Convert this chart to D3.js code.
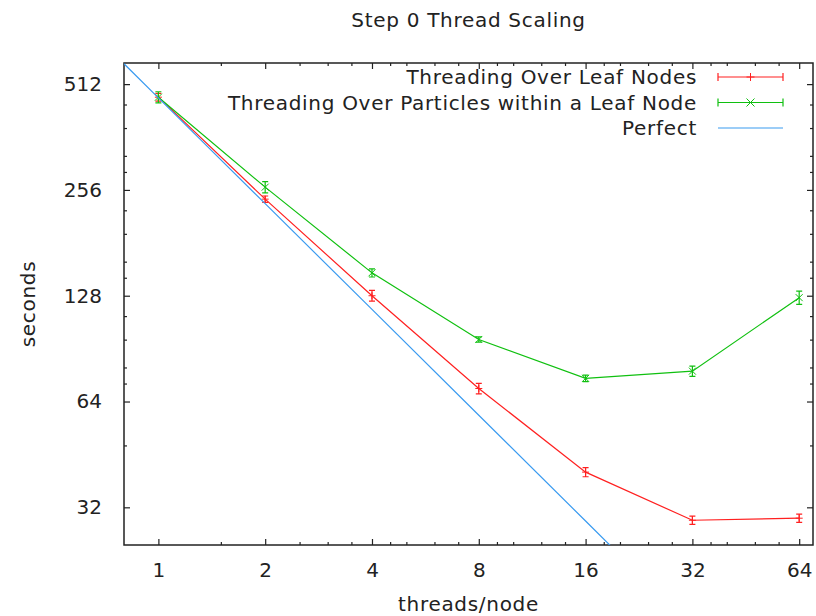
<!DOCTYPE html>
<html>
<head>
<meta charset="utf-8">
<script src="https://cdn.jsdelivr.net/npm/d3@7"></script>
<style>
  body { margin: 0; background: #fff; }
  svg text { font-family: "DejaVu Sans", sans-serif; fill: #222; }
  .axis path, .axis line { stroke: #222; }
  .label { letter-spacing: 0.7px; }
</style>
</head>
<body>
<div class="chart"></div>
<script>
// data
const THREADS = [1, 2, 4, 8, 16, 32, 64];
const LEAF_SECONDS = [470, 241, 128, 69.7, 40.3, 29.4, 29.8];
const LEAF_ERR = [12, 5, 4.5, 2.4, 1.2, 0.8, 0.8];
const PARTICLE_SECONDS = [470, 260.7, 148.7, 96.1, 74.5, 78.1, 126.4];
const PARTICLE_ERR = [17, 9.5, 4, 1.6, 1.6, 2.6, 5.5];
const PERFECT_X = [0.8, 1, 2, 4, 8, 16, 32];
const PERFECT_SECONDS = [585, 468, 234, 117, 58.5, 29.25, 14.6];
const X_TICKS = [1, 2, 4, 8, 16, 32, 64];
const X_MINOR = [1.5, 2.5, 3, 3.5, 4.5, 5, 6, 7, 9, 10, 12, 14, 18, 20, 24, 28, 36, 40, 48, 56];
const Y_TICKS = [32, 64, 128, 256, 512];
const Y_MINOR = [48, 72, 80, 96, 112, 144, 160, 192, 224, 288, 320, 384, 448];
const SERIES = ["Threading Over Leaf Nodes", "Threading Over Particles within a Leaf Node", "Perfect"];

const W = 816, H = 616;
const M = { left: 124, right: 813, top: 63, bottom: 545 };
const FONT = 20;

const svg = d3.select(".chart").append("svg").attr("width", W).attr("height", H);

const x = d3.scaleLog().base(2).domain([0.8, 70]).range([M.left, M.right]);
const y = d3.scaleLog().base(2).domain([25, 588]).range([M.bottom, M.top]);

// clip for the lines
svg.append("clipPath").attr("id", "plot-clip")
  .append("rect")
  .attr("x", M.left).attr("y", M.top)
  .attr("width", M.right - M.left).attr("height", M.bottom - M.top);

// Axes: labelled bottom/left, mirrored ticks top/right
const axisG = (axis, tx, ty) => svg.append("g")
  .attr("class", "axis")
  .attr("transform", `translate(${tx}, ${ty})`)
  .call(axis)
  .call(g => g.select(".domain").remove());

const xAxis = axisG(d3.axisBottom(x).tickValues(X_TICKS).tickSize(-6).tickPadding(18).tickFormat(d3.format("d")), 0, M.bottom);
axisG(d3.axisBottom(x).tickValues(X_MINOR).tickSize(-3).tickFormat(""), 0, M.bottom);
axisG(d3.axisTop(x).tickValues(X_TICKS).tickSize(-6).tickFormat(""), 0, M.top);
axisG(d3.axisTop(x).tickValues(X_MINOR).tickSize(-3).tickFormat(""), 0, M.top);

const yAxis = axisG(d3.axisLeft(y).tickValues(Y_TICKS).tickSize(-6).tickPadding(22).tickFormat(d3.format("d")), M.left, 0);
axisG(d3.axisLeft(y).tickValues(Y_MINOR).tickSize(-3).tickFormat(""), M.left, 0);
axisG(d3.axisRight(y).tickValues(Y_TICKS).tickSize(-6).tickFormat(""), M.right, 0);
axisG(d3.axisRight(y).tickValues(Y_MINOR).tickSize(-3).tickFormat(""), M.right, 0);

svg.selectAll(".axis line").attr("stroke-width", 1.2);
svg.selectAll(".axis text").style("font-size", FONT + "px").attr("fill", "#222");

// frame
svg.append("rect")
  .attr("x", M.left).attr("y", M.top)
  .attr("width", M.right - M.left).attr("height", M.bottom - M.top)
  .attr("fill", "none").attr("stroke", "#222").attr("stroke-width", 1.5);

// titles
svg.append("text").attr("class", "label").attr("x", (M.left + M.right) / 2).attr("y", 27)
  .attr("text-anchor", "middle").style("font-size", FONT + "px")
  .text("Step 0 Thread Scaling");
svg.append("text").attr("class", "label").attr("x", (M.left + M.right) / 2).attr("y", 611)
  .attr("text-anchor", "middle").style("font-size", FONT + "px")
  .text("threads/node");
svg.append("text").attr("class", "label")
  .attr("transform", `translate(35, ${(M.top + M.bottom) / 2}) rotate(-90)`)
  .attr("text-anchor", "middle").style("font-size", FONT + "px")
  .text("seconds");

// series
const leaf = THREADS.map((t, i) => ({ x: t, y: LEAF_SECONDS[i], e: LEAF_ERR[i] }));
const particles = THREADS.map((t, i) => ({ x: t, y: PARTICLE_SECONDS[i], e: PARTICLE_ERR[i] }));
const perfect = PERFECT_X.map((t, i) => ({ x: t, y: PERFECT_SECONDS[i] }));

const line = d3.line().x(d => x(d.x)).y(d => y(d.y));
const plot = svg.append("g").attr("clip-path", "url(#plot-clip)");

const plus = (g, cx, cy, s, color) => {
  g.append("path").attr("d", `M${cx - s},${cy}H${cx + s}M${cx},${cy - s}V${cy + s}`)
    .attr("stroke", color).attr("stroke-width", 1).attr("fill", "none");
};
const cross = (g, cx, cy, s, color) => {
  g.append("path").attr("d", `M${cx - s},${cy - s}L${cx + s},${cy + s}M${cx - s},${cy + s}L${cx + s},${cy - s}`)
    .attr("stroke", color).attr("stroke-width", 1).attr("fill", "none");
};

const drawSeries = (data, color, marker) => {
  plot.append("path").datum(data)
    .attr("d", line).attr("fill", "none")
    .attr("stroke", color).attr("stroke-width", 1.2);
  const bars = plot.append("g");
  data.forEach(d => {
    const cx = x(d.x), y0 = y(d.y - d.e), y1 = y(d.y + d.e);
    bars.append("path")
      .attr("d", `M${cx},${y0}V${y1}M${cx - 3},${y0}H${cx + 3}M${cx - 3},${y1}H${cx + 3}`)
      .attr("stroke", color).attr("stroke-width", 1.2).attr("fill", "none");
    marker(bars, cx, y(d.y), 3.5, color);
  });
};

const RED = "#ff2020", GREEN = "#10c010", BLUE = "#3a9bf0";
drawSeries(leaf, RED, plus);
drawSeries(particles, GREEN, cross);
plot.append("path").datum(perfect)
  .attr("d", line).attr("fill", "none")
  .attr("stroke", BLUE).attr("stroke-width", 1.2);

// legend
const legend = svg.append("g");
const rowY = i => 77 + i * 25.5;
SERIES.forEach((name, i) => {
  legend.append("text").attr("class", "label").attr("x", 697).attr("y", rowY(i)).attr("dy", "0.36em")
    .attr("text-anchor", "end").style("font-size", FONT + "px").text(name);
});
const keySample = (i, color, marker) => {
  const cy = rowY(i);
  legend.append("path")
    .attr("d", `M718,${cy}H783M718,${cy - 4}V${cy + 4}M783,${cy - 4}V${cy + 4}`)
    .attr("stroke", color).attr("stroke-width", 1.2).attr("fill", "none");
  if (marker) marker(legend, 750.5, cy, 4, color);
};
keySample(0, RED, plus);
keySample(1, GREEN, cross);
legend.append("path").attr("d", `M718,${rowY(2)}H783`)
  .attr("stroke", BLUE).attr("stroke-width", 1.2);
</script>
</body>
</html>
